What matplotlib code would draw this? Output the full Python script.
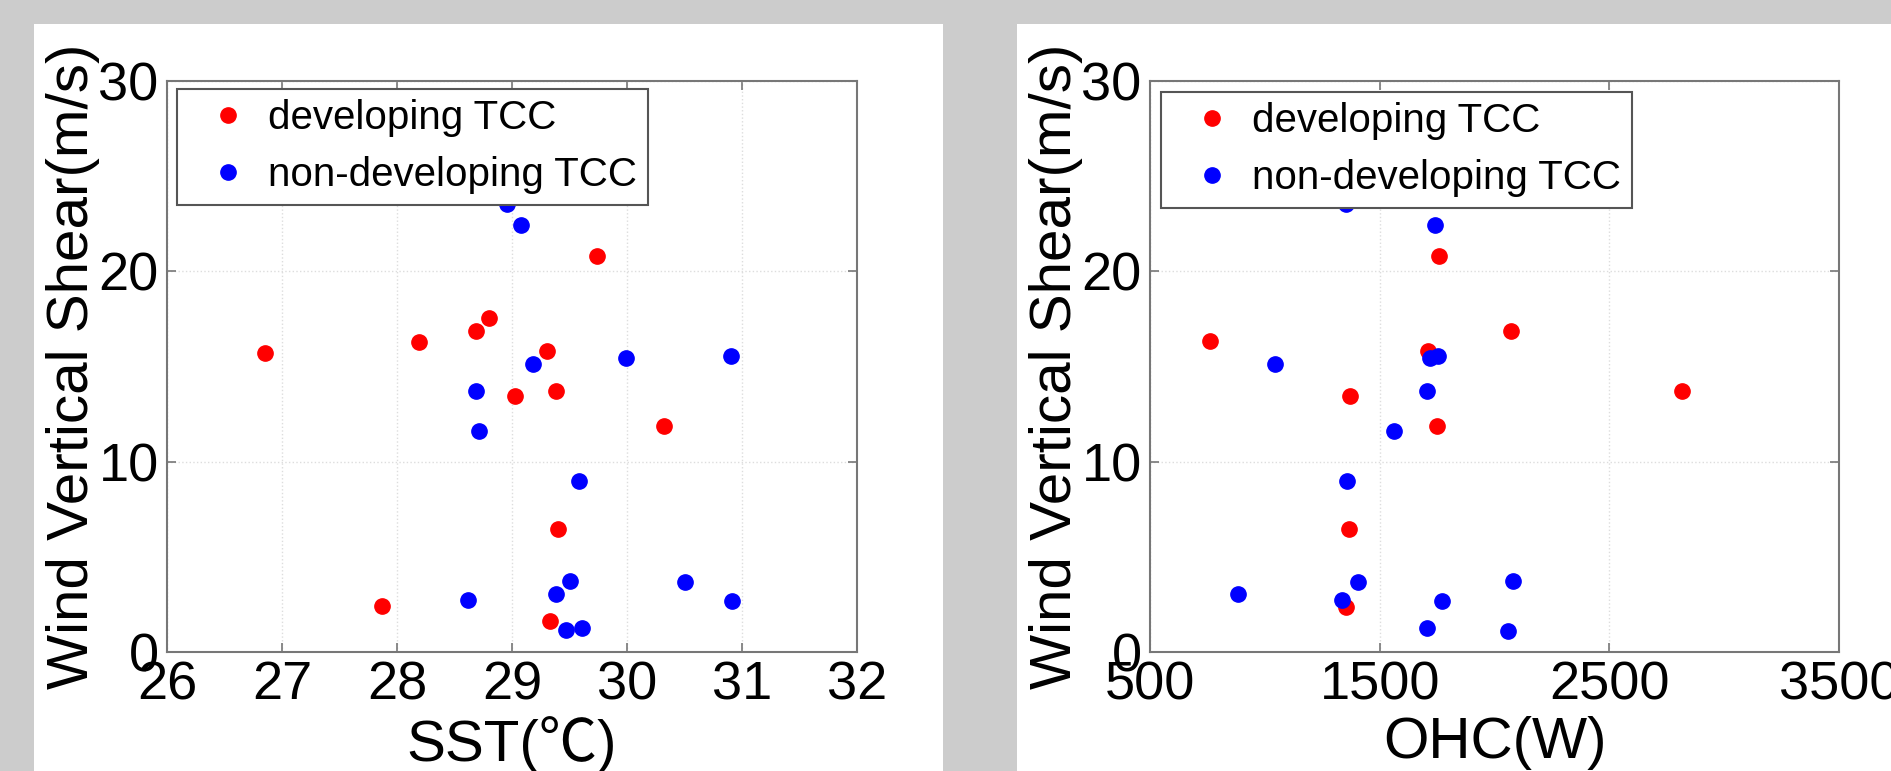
import matplotlib
matplotlib.use('Agg')
import matplotlib.pyplot as plt
from matplotlib.patches import Rectangle

# developing / non-developing TCC
sst_dev = [26.85, 28.19, 28.69, 28.80, 29.74, 29.30, 29.03, 29.38, 30.32, 29.40, 27.87, 29.33]
shear_dev = [15.71, 16.31, 16.87, 17.55, 20.80, 15.79, 13.46, 13.70, 11.89, 6.44, 2.41, 1.61]

sst_non = [28.96, 29.08, 29.18, 29.99, 30.90, 28.69, 28.71, 29.58, 29.50, 29.38, 30.50, 28.62, 30.91, 29.47, 29.61]
shear_non = [23.54, 22.43, 15.12, 15.45, 15.56, 13.72, 11.63, 9.00, 3.72, 3.03, 3.67, 2.74, 2.66, 1.14, 1.27]

ohc_dev = [763, 2070, 2818, 1757, 1712, 1372, 1749, 1365, 1352]
shear_dev2 = [16.33, 16.87, 13.70, 20.80, 15.84, 13.46, 11.86, 6.44, 2.35]

ohc_non = [1354, 1741, 1046, 1720, 1754, 1704, 1563, 1359, 1404, 884, 2081, 1336, 1772, 1707, 2057]
shear_non2 = [23.54, 22.43, 15.12, 15.43, 15.56, 13.72, 11.63, 9.00, 3.70, 3.03, 3.72, 2.72, 2.66, 1.25, 1.11]

sst_ticks = [26, 27, 28, 29, 30, 31, 32]
ohc_ticks = [500, 1500, 2500, 3500]
shear_ticks = [0, 10, 20, 30]

labels = ['developing TCC', 'non-developing TCC']

plt.rcParams['font.family'] = ['Liberation Sans', 'Noto Sans CJK SC', 'DejaVu Sans']

W, H = 1891, 771
fig = plt.figure(figsize=(W / 100, H / 100), dpi=100, facecolor='#cccccc')

# white panels behind each plot
for x0, x1 in [(34, 943), (1017, 1891)]:
	fig.add_artist(Rectangle((x0 / W, 0), (x1 - x0) / W, (H - 24) / H, transform=fig.transFigure,
		facecolor='white', edgecolor='none', zorder=-1))


def draw(ax, xd, yd, xn, yn, xlim, xticks, xlabel, leg_anchor):
	ax.plot(xd, yd, 'o', color='#ff0000', markersize=11, label=labels[0])
	ax.plot(xn, yn, 'o', color='#0000ff', markersize=11, label=labels[1])
	ax.set_xlim(xlim)
	ax.set_ylim(0, 30)
	ax.set_xticks(xticks)
	ax.set_yticks(shear_ticks)
	ax.grid(True, color='#dddddd', linestyle=':', linewidth=1)
	ax.set_axisbelow(True)
	for s in ax.spines.values():
		s.set_color('#777777')
		s.set_linewidth(1.5)
	ax.tick_params(direction='in', top=True, right=True, length=6.5, width=1.2, color='#777777',
		labelsize=39, pad=6)
	ax.set_xlabel(xlabel, fontsize=42)
	ax.xaxis.set_label_coords(0.5, -0.112)
	ax.set_ylabel('Wind Vertical Shear(m/s)', fontsize=42)
	ax.yaxis.set_label_coords(-0.097, 0.5)
	leg = ax.legend(loc='upper left', bbox_to_anchor=leg_anchor, borderaxespad=0, fontsize=29,
		handlelength=2.0, handletextpad=0.0, borderpad=0.26, labelspacing=0.47,
		fancybox=False, framealpha=1, edgecolor='#555555')
	leg.get_frame().set_linewidth(1.5)


ax1 = fig.add_axes([167 / W, (H - 652) / H, 690 / W, 571 / H])
draw(ax1, sst_dev, shear_dev, sst_non, shear_non, (26, 32), sst_ticks, 'SST(℃)', (0.0145, 0.986))

ax2 = fig.add_axes([1150 / W, (H - 652) / H, 689 / W, 571 / H])
draw(ax2, ohc_dev, shear_dev2, ohc_non, shear_non2, (500, 3500), ohc_ticks, 'OHC(W)', (0.016, 0.981))

fig.savefig('out.png', dpi=100, facecolor=fig.get_facecolor())
